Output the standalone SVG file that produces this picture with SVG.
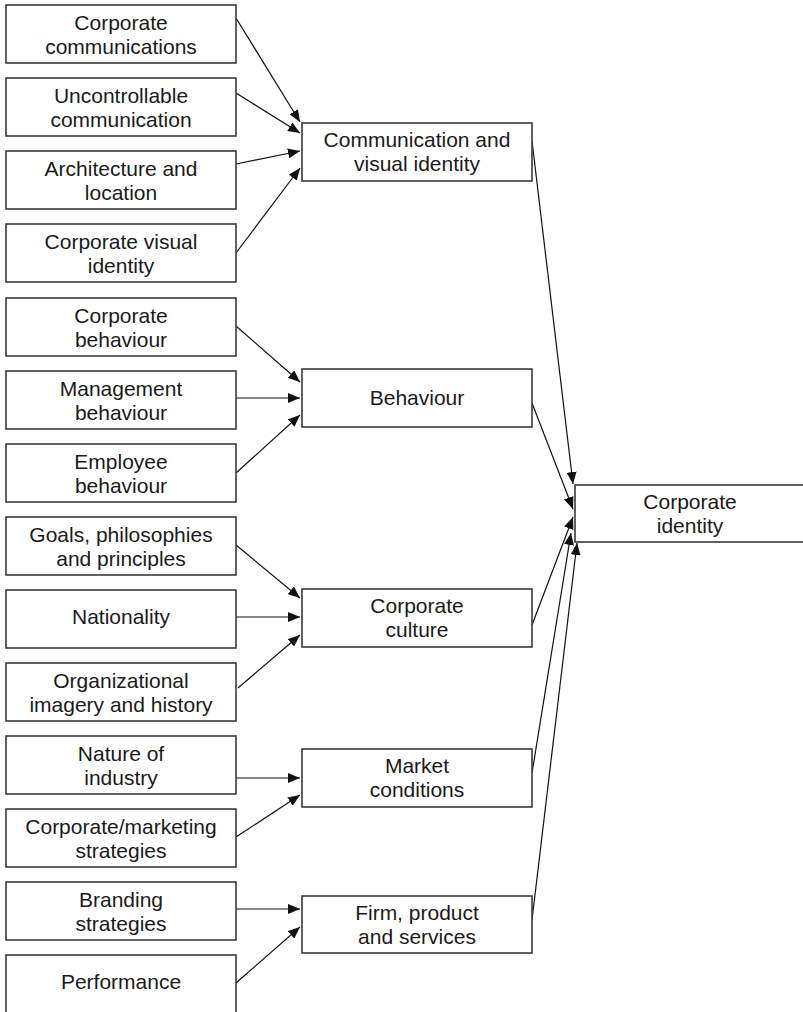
<svg xmlns="http://www.w3.org/2000/svg" width="803" height="1012" viewBox="0 0 803 1012">
  <defs>
    <marker id="arrow" markerUnits="userSpaceOnUse" markerWidth="12" markerHeight="10" refX="12" refY="5" orient="auto">
      <path d="M0,0 L12,5 L0,10 z" fill="#111"/>
    </marker>
    <style>
      .box { fill: #fff; stroke: #3a3a3a; stroke-width: 1.6; }
      .lbl { font-family: "Liberation Sans", Arial, sans-serif; font-size: 21px; fill: #1a1a1a; text-anchor: middle; }
      .edge { fill: none; stroke: #111; stroke-width: 1.2; marker-end: url(#arrow); }
    </style>
  </defs>
  <rect width="803" height="1012" fill="#fff"/>

  <!-- connectors -->
  <g id="connectors">
    <!-- into Communication and visual identity -->
    <line class="edge" x1="236" y1="18" x2="300" y2="122"/>
    <line class="edge" x1="236" y1="93" x2="300" y2="133"/>
    <line class="edge" x1="236" y1="164" x2="300" y2="151"/>
    <line class="edge" x1="236" y1="253" x2="300" y2="168"/>
    <!-- into Behaviour -->
    <line class="edge" x1="236" y1="326" x2="300" y2="382"/>
    <line class="edge" x1="236" y1="398" x2="300" y2="398"/>
    <line class="edge" x1="236" y1="473" x2="300" y2="415"/>
    <!-- into Corporate culture -->
    <line class="edge" x1="236" y1="545" x2="300" y2="598"/>
    <line class="edge" x1="236" y1="617" x2="300" y2="617"/>
    <line class="edge" x1="238" y1="688" x2="300" y2="635"/>
    <!-- into Market conditions -->
    <line class="edge" x1="236" y1="778" x2="300" y2="778"/>
    <line class="edge" x1="236" y1="837" x2="300" y2="795"/>
    <!-- into Firm, product and services -->
    <line class="edge" x1="236" y1="909" x2="300" y2="909"/>
    <line class="edge" x1="236" y1="983" x2="300" y2="927"/>
    <!-- into Corporate identity -->
    <line class="edge" x1="532" y1="141" x2="573" y2="484"/>
    <line class="edge" x1="532" y1="403" x2="573" y2="509"/>
    <line class="edge" x1="532" y1="625" x2="573" y2="517"/>
    <line class="edge" x1="532" y1="773" x2="571" y2="533"/>
    <line class="edge" x1="532" y1="920" x2="577" y2="543"/>
  </g>

  <!-- source factors -->
  <g id="corporate-communications">
    <rect class="box" x="6" y="5" width="230" height="58"/>
    <text class="lbl" x="121" y="29.5">Corporate</text>
    <text class="lbl" x="121" y="53.5">communications</text>
  </g>
  <g id="uncontrollable-communication">
    <rect class="box" x="6" y="78" width="230" height="58"/>
    <text class="lbl" x="121" y="102.5">Uncontrollable</text>
    <text class="lbl" x="121" y="126.5">communication</text>
  </g>
  <g id="architecture-location">
    <rect class="box" x="6" y="151" width="230" height="58"/>
    <text class="lbl" x="121" y="175.5">Architecture and</text>
    <text class="lbl" x="121" y="199.5">location</text>
  </g>
  <g id="corporate-visual-identity">
    <rect class="box" x="6" y="224" width="230" height="58"/>
    <text class="lbl" x="121" y="248.5">Corporate visual</text>
    <text class="lbl" x="121" y="272.5">identity</text>
  </g>
  <g id="corporate-behaviour">
    <rect class="box" x="6" y="298" width="230" height="58"/>
    <text class="lbl" x="121" y="322.5">Corporate</text>
    <text class="lbl" x="121" y="346.5">behaviour</text>
  </g>
  <g id="management-behaviour">
    <rect class="box" x="6" y="371" width="230" height="58"/>
    <text class="lbl" x="121" y="395.5">Management</text>
    <text class="lbl" x="121" y="419.5">behaviour</text>
  </g>
  <g id="employee-behaviour">
    <rect class="box" x="6" y="444" width="230" height="58"/>
    <text class="lbl" x="121" y="468.5">Employee</text>
    <text class="lbl" x="121" y="492.5">behaviour</text>
  </g>
  <g id="goals-philosophies">
    <rect class="box" x="6" y="517" width="230" height="58"/>
    <text class="lbl" x="121" y="541.5">Goals, philosophies</text>
    <text class="lbl" x="121" y="565.5">and principles</text>
  </g>
  <g id="nationality">
    <rect class="box" x="6" y="590" width="230" height="58"/>
    <text class="lbl" x="121" y="624">Nationality</text>
  </g>
  <g id="organizational-imagery">
    <rect class="box" x="6" y="663" width="230" height="58"/>
    <text class="lbl" x="121" y="687.5">Organizational</text>
    <text class="lbl" x="121" y="711.5">imagery and history</text>
  </g>
  <g id="nature-of-industry">
    <rect class="box" x="6" y="736" width="230" height="58"/>
    <text class="lbl" x="121" y="760.5">Nature of</text>
    <text class="lbl" x="121" y="784.5">industry</text>
  </g>
  <g id="corporate-marketing-strategies">
    <rect class="box" x="6" y="809" width="230" height="58"/>
    <text class="lbl" x="121" y="833.5">Corporate/marketing</text>
    <text class="lbl" x="121" y="857.5">strategies</text>
  </g>
  <g id="branding-strategies">
    <rect class="box" x="6" y="882" width="230" height="58"/>
    <text class="lbl" x="121" y="906.5">Branding</text>
    <text class="lbl" x="121" y="930.5">strategies</text>
  </g>
  <g id="performance">
    <rect class="box" x="6" y="955" width="230" height="58"/>
    <text class="lbl" x="121" y="989">Performance</text>
  </g>

  <!-- intermediate dimensions -->
  <g id="communication-visual-identity">
    <rect class="box" x="302" y="123" width="230" height="58"/>
    <text class="lbl" x="417" y="147">Communication and</text>
    <text class="lbl" x="417" y="171">visual identity</text>
  </g>
  <g id="behaviour">
    <rect class="box" x="302" y="369" width="230" height="58"/>
    <text class="lbl" x="417" y="405">Behaviour</text>
  </g>
  <g id="corporate-culture">
    <rect class="box" x="302" y="589" width="230" height="58"/>
    <text class="lbl" x="417" y="613">Corporate</text>
    <text class="lbl" x="417" y="637">culture</text>
  </g>
  <g id="market-conditions">
    <rect class="box" x="302" y="749" width="230" height="58"/>
    <text class="lbl" x="417" y="773">Market</text>
    <text class="lbl" x="417" y="797">conditions</text>
  </g>
  <g id="firm-product-services">
    <rect class="box" x="302" y="896" width="230" height="57"/>
    <text class="lbl" x="417" y="919.5">Firm, product</text>
    <text class="lbl" x="417" y="943.5">and services</text>
  </g>

  <!-- outcome -->
  <g id="corporate-identity">
    <rect class="box" x="575" y="485" width="240" height="57"/>
    <text class="lbl" x="690" y="509">Corporate</text>
    <text class="lbl" x="690" y="533">identity</text>
  </g>
</svg>
